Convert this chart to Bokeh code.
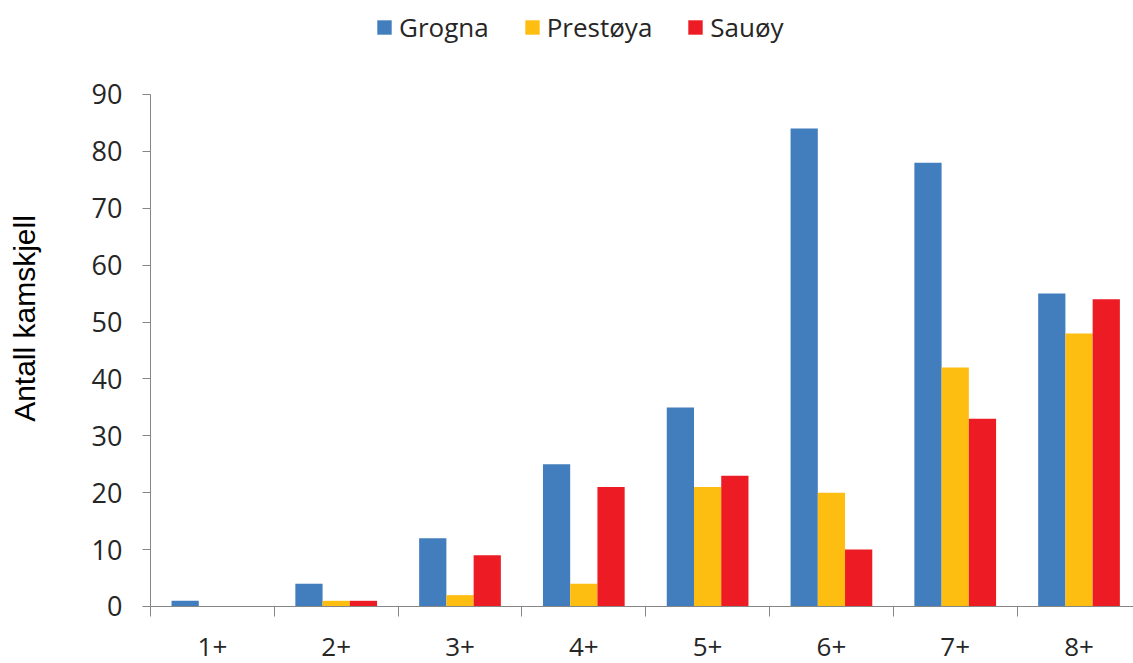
from bokeh.plotting import figure
from bokeh.models import ColumnDataSource, FixedTicker, Legend, LegendItem, Range1d, Label
from bokeh.transform import dodge
from bokeh.embed import file_html
from bokeh.resources import INLINE

categories = ["1+", "2+", "3+", "4+", "5+", "6+", "7+", "8+"]
grogna = [1, 4, 12, 25, 35, 84, 78, 55]
prestoya = [0, 1, 2, 4, 21, 20, 42, 48]
sauoy = [0, 1, 9, 21, 23, 10, 33, 54]
y_ticks = [0, 10, 20, 30, 40, 50, 60, 70, 80, 90]

series_names = ["Grogna", "Prestøya", "Sauøy"]
colors = ["#427DBD", "#FEBD11", "#ED1C24"]

pos = [i + 0.5 for i in range(len(categories))]
source = ColumnDataSource(dict(x=pos, cat=categories, grogna=grogna,
                               prestoya=prestoya, sauoy=sauoy))

# The frame fills the whole figure; both axes are drawn inside it at 0
# (bounded), so the axis title, tick labels and legend all sit in the frame.
p = figure(width=1133, height=663, output_backend="svg", toolbar_location=None,
           x_range=Range1d(-1.2116, 7.94), y_range=Range1d(-10.02, 106.52),
           min_border_left=0, min_border_right=0, min_border_top=0,
           min_border_bottom=0)
p.outline_line_color = None
p.xgrid.visible = False
p.ygrid.visible = False

bw = 0.22
renderers = []
for field, off, col in zip(["grogna", "prestoya", "sauoy"], [-bw, 0, bw], colors):
    r = p.vbar(x=dodge("x", off), top=field, bottom=0, width=bw, source=source,
               fill_color=col, line_color=None)
    renderers.append(r)

axis_color = "#868686"
text_color = "#262626"

# x axis
xa = p.xaxis[0]
xa.fixed_location = 0
xa.ticker = FixedTicker(ticks=pos, minor_ticks=list(range(len(categories) + 1)))
xa.major_label_overrides = {x: c for x, c in zip(pos, categories)}
xa.bounds = (0, len(categories))
xa.major_tick_line_color = None
xa.major_tick_out = 0
xa.major_tick_in = 0
xa.minor_tick_out = 10
xa.minor_tick_in = 0
xa.minor_tick_line_color = axis_color
xa.axis_line_color = axis_color
xa.major_label_text_font = "Open Sans"
xa.major_label_text_font_size = "26px"
xa.major_label_text_color = text_color
xa.major_label_standoff = 22

# y axis
ya = p.yaxis[0]
ya.fixed_location = 0
ya.ticker = FixedTicker(ticks=y_ticks)
ya.bounds = (0, 90)
ya.minor_tick_line_color = None
ya.major_tick_out = 8
ya.major_tick_in = 0
ya.major_tick_line_color = axis_color
ya.axis_line_color = axis_color
ya.major_label_text_font = "Open Sans"
ya.major_label_text_font_size = "27px"
ya.major_label_text_color = text_color
ya.major_label_standoff = 20

ytitle = Label(x=24, y=345, x_units="screen", y_units="screen",
               text="Antall kamskjell", angle=90, angle_units="deg",
               text_align="center", text_baseline="middle",
               text_font="Liberation Sans", text_font_size="30px",
               text_font_style="normal", text_color="black")
p.add_layout(ytitle)

legend = Legend(items=[LegendItem(label=n, renderers=[r]) for n, r in zip(series_names, renderers)],
                orientation="horizontal", location=(375, 618),
                glyph_width=18, glyph_height=18, label_standoff=6, spacing=34,
                padding=0, margin=0, border_line_color=None, background_fill_alpha=0,
                label_text_font="Open Sans", label_text_font_size="26px",
                label_text_color=text_color)
p.add_layout(legend, "center")

open("out.html", "w").write(file_html(p, INLINE))
